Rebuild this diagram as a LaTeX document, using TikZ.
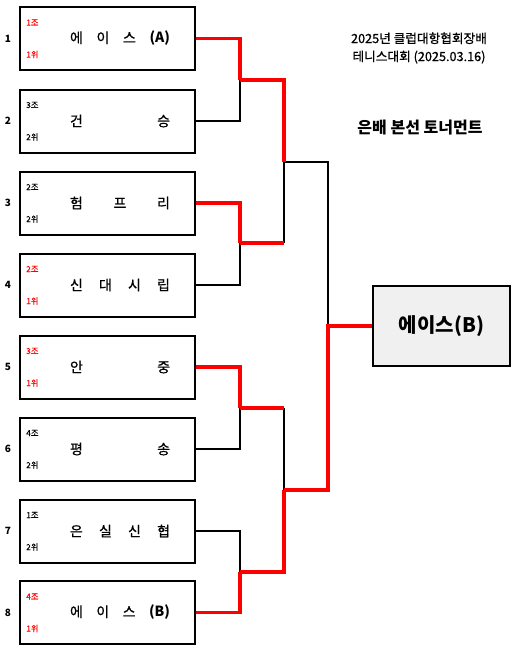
\documentclass[tikz,border=0pt]{standalone}
\usepackage{fontspec}
\setmainfont{Noto Sans CJK KR}[UprightFeatures={FakeBold=0.8}]
\usepackage{tikz}
\usetikzlibrary{positioning}
\definecolor{winred}{HTML}{FF0000}
\definecolor{finalgray}{HTML}{F0F0F0}

\begin{document}
\begin{tikzpicture}[x=0.75pt, y=-0.75pt,
    team/.style={draw, line width=1.5pt, minimum width=131.25pt, minimum height=47.25pt, inner sep=0pt},
    teamname/.style={font=\fontsize{10.5}{12}\selectfont, inner sep=0pt},
    grp/.style={font=\fontsize{6.2}{7}\selectfont, anchor=west, inner sep=0pt, text=#1},
    seednum/.style={font=\fontsize{7.5}{9}\selectfont\bfseries, inner sep=0pt},
    lostline/.style={line width=1.6pt, draw=black},
    wonline/.style={line width=2.4pt, draw=winred},
]
\useasboundingbox (0,0) rectangle (518,653);

% Teams
\node[team] (b1) at (107.5,38.5) {};
\node[team] (b2) at (107.5,121) {};
\node[team] (b3) at (107.5,203) {};
\node[team] (b4) at (107.5,285) {};
\node[team] (b5) at (107.5,367) {};
\node[team] (b6) at (107.5,449) {};
\node[team] (b7) at (107.5,531) {};
\node[team] (b8) at (107.5,612.5) {};

\node[teamname] (n1) at (120,38.5) {\makebox[75pt]{에\hfill 이\hfill 스\hfill \textbf{(A)}}};
\node[teamname] (n2) at (120,121) {\makebox[75pt]{건\hfill 승}};
\node[teamname] (n3) at (120,203) {\makebox[75pt]{험\hfill 프\hfill 리}};
\node[teamname] (n4) at (120,285) {\makebox[75pt]{신\hfill 대\hfill 시\hfill 립}};
\node[teamname] (n5) at (120,367) {\makebox[75pt]{안\hfill 중}};
\node[teamname] (n6) at (120,449) {\makebox[75pt]{평\hfill 송}};
\node[teamname] (n7) at (120,531) {\makebox[75pt]{은\hfill 실\hfill 신\hfill 협}};
\node[teamname] (n8) at (120,612.5) {\makebox[75pt]{에\hfill 이\hfill 스\hfill \textbf{(B)}}};

% Seeds
\node[seednum] (s1) at (8,38.5) {1};
\node[seednum] (s2) at (8,121) {2};
\node[seednum] (s3) at (8,203) {3};
\node[seednum] (s4) at (8,285) {4};
\node[seednum] (s5) at (8,367) {5};
\node[seednum] (s6) at (8,449) {6};
\node[seednum] (s7) at (8,531) {7};
\node[seednum] (s8) at (8,612.5) {8};

% Group and rank
\node[grp=winred] (g1) at (26,22.5) {1조};
\node[grp=winred] (r1) at (26,54.5) {1위};
\node[grp=black] (g2) at (26,105) {3조};
\node[grp=black] (r2) at (26,137) {2위};
\node[grp=black] (g3) at (26,187) {2조};
\node[grp=black] (r3) at (26,219) {2위};
\node[grp=winred] (g4) at (26,269) {2조};
\node[grp=winred] (r4) at (26,301) {1위};
\node[grp=winred] (g5) at (26,351) {3조};
\node[grp=winred] (r5) at (26,383) {1위};
\node[grp=black] (g6) at (26,433) {4조};
\node[grp=black] (r6) at (26,465) {2위};
\node[grp=black] (g7) at (26,515) {1조};
\node[grp=black] (r7) at (26,547) {2위};
\node[grp=winred] (g8) at (26,596.5) {4조};
\node[grp=winred] (r8) at (26,628.5) {1위};

% Title
\node[font=\fontsize{9.5}{13.5}\selectfont, align=center] (title) at (419,48) {2025년 클럽대항협회장배\\테니스대회 (2025.03.16)};
\node[font=\fontsize{12}{14}\selectfont\bfseries] (sub) at (420,128) {은배 본선 토너먼트};

% Champion
\node[draw, line width=1.5pt, fill=finalgray, minimum width=103pt, minimum height=60pt, font=\fontsize{15}{17}\selectfont\bfseries] (final) at (441.5,326) {에이스(B)};

% Junctions
\coordinate (j12) at (240,80);
\coordinate (j34) at (240,243);
\coordinate (j56) at (240,408);
\coordinate (j78) at (240,572);
\coordinate (j14) at (284,162);
\coordinate (j58) at (284,490);
\coordinate (jf) at (328,326);

% Losing paths
\draw[lostline] (b2.east) -| (j12);
\draw[lostline] (b4.east) -| (j34);
\draw[lostline] (b6.east) -| (j56);
\draw[lostline] (b7.east) -| (j78);
\draw[lostline] (j34 -| j14) -- (j14);
\draw[lostline] (j56 -| j58) -- (j58);
\draw[lostline] (j14) -| (jf);

% Winning paths
\draw[wonline] (b1.east) -| (j12);
\draw[wonline] (b3.east) -| (j34);
\draw[wonline] (b5.east) -| (j56);
\draw[wonline] (b8.east) -| (j78);
\draw[wonline] (j12) -| (j14);
\draw[wonline] (j34) -- (j34 -| j14);
\draw[wonline] (j56) -- (j56 -| j58);
\draw[wonline] (j78) -| (j58);
\draw[wonline] (j58) -| (jf) -- (final.west);

\end{tikzpicture}
\end{document}
